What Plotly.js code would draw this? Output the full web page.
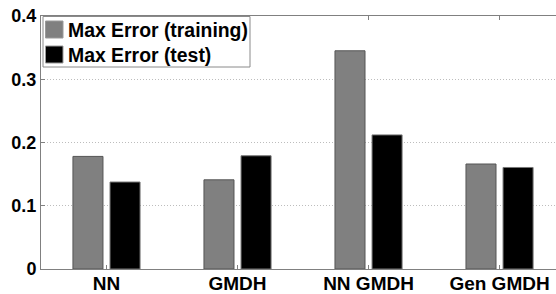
<!DOCTYPE html>
<html>
<head>
<meta charset="utf-8">
<script src="https://cdn.plot.ly/plotly-3.0.1.min.js"></script>
<style>html,body{margin:0;padding:0;background:#fff;}#chart{width:556px;height:294px;}</style>
</head>
<body>
<div id="chart"></div>
<script>
var categories = ["NN", "GMDH", "NN GMDH", "Gen GMDH"];
var seriesNames = ["Max Error (training)", "Max Error (test)"];
var trainingValues = [0.178, 0.141, 0.345, 0.166];
var testValues = [0.1375, 0.179, 0.212, 0.1605];
var yTickValues = [0, 0.1, 0.2, 0.3, 0.4];
var yTickLabels = ["0", "0.1", "0.2", "0.3", "0.4"];

var fontFamily = "Liberation Sans, Arial, sans-serif";
var seriesColors = ["#808080", "#000000"];
var edgeColors = ["#555555", "#777777"];

var W = 556, H = 294, ML = 41, MR = 0, MT = 16, MB = 25;
var PW = W - ML - MR, PH = H - MT - MB;
function px(x) { return (x - ML) / PW; }
function py(y) { return (H - MB - y) / PH; }

var traces = [
  {
    type: "bar", name: seriesNames[0], x: categories, y: trainingValues, showlegend: false,
    marker: {color: seriesColors[0], line: {color: edgeColors[0], width: 1}}
  },
  {
    type: "bar", name: seriesNames[1], x: categories, y: testValues, showlegend: false,
    marker: {color: seriesColors[1], line: {color: edgeColors[1], width: 1}}
  }
];

// Legend drawn as a box with swatches and text labels
var shapes = [
  {type: "rect", xref: "paper", yref: "paper", x0: px(43), x1: px(250), y0: py(67), y1: py(16.5),
   fillcolor: "#ffffff", line: {color: "#8a8a8a", width: 1}, layer: "above"}
];
var annotations = [];
var rowCenters = [29.5, 54.5];
for (var i = 0; i < seriesNames.length; i++) {
  shapes.push({type: "rect", xref: "paper", yref: "paper",
    x0: px(45.5), x1: px(63), y0: py(rowCenters[i] + 8.5), y1: py(rowCenters[i] - 8.5),
    fillcolor: seriesColors[i], line: {color: "#9a9a9a", width: 1}, layer: "above"});
  annotations.push({xref: "paper", yref: "paper", x: px(66), y: py(rowCenters[i] + 0.5),
    xanchor: "left", yanchor: "middle", showarrow: false, text: seriesNames[i],
    font: {family: fontFamily, size: 19.4, weight: 700, color: "#000"}});
}

var layout = {
  width: W, height: H,
  margin: {l: ML, r: MR, t: MT, b: MB, pad: 0},
  paper_bgcolor: "#ffffff", plot_bgcolor: "#ffffff",
  barmode: "group", bargap: 0.434, bargroupgap: 0.19,
  showlegend: false,
  shapes: shapes,
  annotations: annotations,
  xaxis: {
    type: "category", range: [-0.5, 3.431],
    showline: true, linecolor: "#808080", linewidth: 1, mirror: "ticks",
    ticks: "inside", ticklen: 4, tickcolor: "#808080", tickwidth: 1,
    showgrid: false, zeroline: false, ticklabelstandoff: -3,
    tickfont: {family: fontFamily, size: 19, weight: 700, color: "#000"}
  },
  yaxis: {
    range: [0, 0.4], tickvals: yTickValues, ticktext: yTickLabels,
    showline: true, linecolor: "#808080", linewidth: 1, mirror: false,
    ticks: "inside", ticklen: 4, tickcolor: "#808080", tickwidth: 1,
    showgrid: true, gridcolor: "#bdbdbd", griddash: "1px,2px", gridwidth: 1,
    zeroline: false,
    tickfont: {family: fontFamily, size: 18, weight: 700, color: "#000"}
  }
};

Plotly.newPlot("chart", traces, layout, {displayModeBar: false, staticPlot: true});
</script>
</body>
</html>
